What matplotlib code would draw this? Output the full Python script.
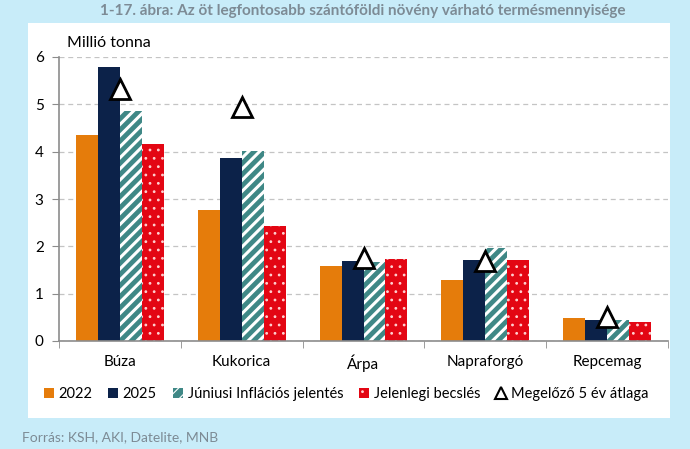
import matplotlib
matplotlib.use("Agg")
import matplotlib.pyplot as plt
from matplotlib.patches import Rectangle, Patch
from matplotlib.lines import Line2D
import numpy as np

plt.rcParams['font.family'] = ['Lato', 'DejaVu Sans']

categories = ["Búza", "Kukorica", "Árpa", "Napraforgó", "Repcemag"]
v2022 = [4.35, 2.77, 1.59, 1.29, 0.49]
v2025 = [5.79, 3.87, 1.69, 1.71, 0.44]
vjun = [4.86, 4.02, 1.67, 1.97, 0.44]
vjelen = [4.16, 2.43, 1.73, 1.71, 0.40]
vavg = [5.33, 4.95, 1.75, 1.70, 0.51]
series_names = ["2022", "2025", "Júniusi Inflációs jelentés", "Jelenlegi becslés",
                "Megelőző 5 év átlaga"]
yticks = [0, 1, 2, 3, 4, 5, 6]

c_orange = "#e57c0b"
c_navy = "#0c2249"
c_teal = "#3f8886"
c_red = "#e30613"

W, H = 690, 449
fig = plt.figure(figsize=(W / 100, H / 100), dpi=100)
fig.patch.set_facecolor("#c8ecf9")

# white panel
fig.patches.append(Rectangle((28 / W, 1 - 418 / H), (670 - 28) / W, (418 - 23) / H,
                             transform=fig.transFigure, facecolor="white",
                             edgecolor="none", zorder=-5))

ax = fig.add_axes([59 / W, 1 - 341 / H, (668 - 59) / W, (341 - 57) / H])
ax.set_facecolor("none")

x = np.arange(len(categories))
bw = 0.18
offs = [-1.5 * bw, -0.5 * bw, 0.5 * bw, 1.5 * bw]

plt.rcParams['hatch.linewidth'] = 2.2
ax.bar(x + offs[0], v2022, bw, color=c_orange, zorder=2, label=series_names[0])
ax.bar(x + offs[1], v2025, bw, color=c_navy, zorder=2, label=series_names[1])
ax.bar(x + offs[2], vjun, bw, facecolor=c_teal, edgecolor="white", hatch="///",
       linewidth=0, zorder=2, label=series_names[2])
plt.rcParams['hatch.linewidth'] = 0.8
ax.bar(x + offs[3], vjelen, bw, facecolor=c_red, edgecolor="#ffd0d0", hatch="..",
       linewidth=0, zorder=2, label=series_names[3])
ax.plot(x, vavg, linestyle="none", marker="^", markersize=14, markerfacecolor="white",
        markeredgecolor="black", markeredgewidth=2, zorder=4, label=series_names[4])

ax.set_xlim(-0.5, len(categories) - 0.5)
ax.set_ylim(0, 6)
ax.set_yticks(yticks)
ax.set_yticklabels([str(t) for t in yticks], fontsize=11)
ax.yaxis.grid(True, linestyle=(0, (4, 3)), color="#c4c4c4", linewidth=0.9, zorder=0)
ax.set_axisbelow(True)

ax.set_xticks(x)
ax.set_xticklabels(categories, fontsize=11)
ax.set_xticks(np.arange(-0.5, len(categories), 1), minor=True)
ax.tick_params(axis="x", which="major", length=0, pad=10)
ax.tick_params(axis="x", which="minor", length=5, color="#8c8c8c", direction="out")
ax.tick_params(axis="y", length=5, color="#8c8c8c", direction="out", pad=6)
for s in ["top", "right"]:
    ax.spines[s].set_visible(False)
for s in ["left", "bottom"]:
    ax.spines[s].set_color("#8c8c8c")
    ax.spines[s].set_linewidth(1.2)

fig.text(67 / W, 1 - 43 / H, "Millió tonna", fontsize=11.5, va="center", ha="left")

fig.text(363 / W, 1 - 11 / H,
         "1-17. ábra: Az öt legfontosabb szántóföldi növény várható termésmennyisége",
         fontsize=11, fontweight="bold", color="#7d8b95", ha="center", va="center")
fig.text(22 / W, 1 - 437 / H, "Forrás: KSH, AKI, Datelite, MNB", fontsize=10,
         color="#7d8b95", ha="left", va="center")

handles = [
    Patch(facecolor=c_orange),
    Patch(facecolor=c_navy),
    Patch(facecolor=c_teal, edgecolor="white", hatch="///", linewidth=0),
    Patch(facecolor=c_red, edgecolor="#ffd0d0", hatch="..", linewidth=0),
    Line2D([], [], linestyle="none", marker="^", markersize=8, markerfacecolor="white",
           markeredgecolor="black", markeredgewidth=1.5),
]
fig.legend(handles, series_names, loc="center", bbox_to_anchor=(346 / W, 1 - 394 / H),
           ncol=5, frameon=False, fontsize=10.5, handlelength=0.7, handleheight=0.7,
           handletextpad=0.3, columnspacing=1.1)

fig.savefig("out.png", dpi=100, facecolor=fig.get_facecolor())
